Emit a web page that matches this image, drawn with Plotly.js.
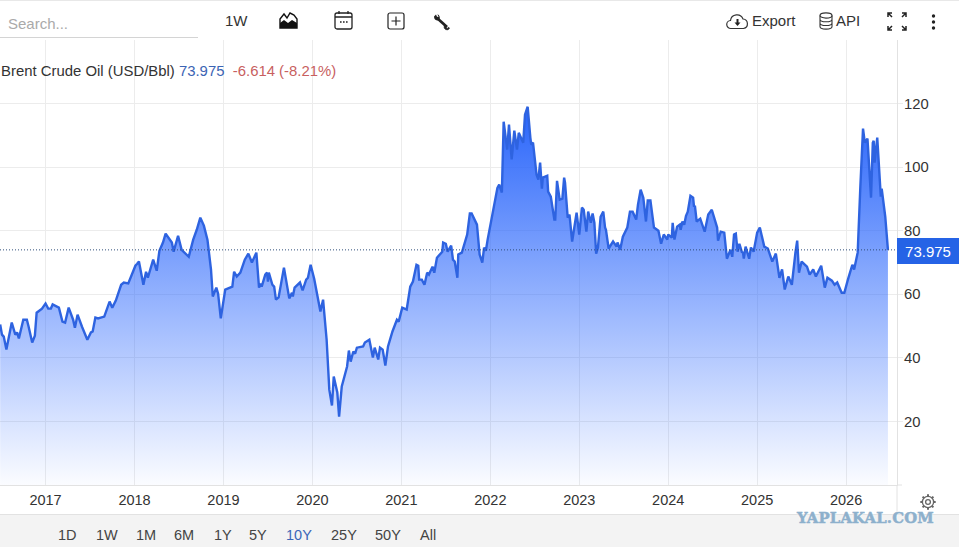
<!DOCTYPE html>
<html><head><meta charset="utf-8">
<script src="https://cdn.plot.ly/plotly-3.0.1.min.js"></script>
<style>
html,body{margin:0;padding:0;background:#fff;font-family:"Liberation Sans",Arial,sans-serif;overflow:hidden}
#wrap{position:relative;width:959px;height:547px;overflow:hidden}
#band{position:absolute;left:0;top:514px;width:959px;height:33px;background:#f3f3f3;border-top:1px solid #e2e2e2;box-sizing:border-box}
#topline{position:absolute;left:0;top:0;width:959px;height:1px;background:#e8e8e8}
#chart{position:absolute;left:0;top:0;width:959px;height:547px}
.t{position:absolute;white-space:nowrap;color:#333;font-size:15px;line-height:18px}
svg.i{position:absolute;overflow:visible}
#search{position:absolute;left:0;top:37px;width:198px;height:1px;background:#d4d4d4}
</style></head><body>
<div id="wrap">
<div id="topline"></div>
<div id="band"></div>
<div id="chart"></div>
<div class="t" style="left:8px;top:15px;color:#aaa">Search...</div><div id="search"></div>
<div class="t" style="left:225px;top:12px">1W</div>
<svg class="i" style="left:279px;top:11px" width="19" height="18" viewBox="0 0 19 18"><path d="M1 17V8L5 3l3 4 3-5 4 2 3 4v9z" fill="none" stroke="#111" stroke-width="1.4"/><path d="M1 17v-5l4-3 4 3 4-3 5 3v5z" fill="#111"/></svg>
<svg class="i" style="left:334px;top:10px" width="19" height="20" viewBox="0 0 19 20"><rect x="1" y="3" width="17" height="16" rx="2" fill="none" stroke="#222" stroke-width="1.3"/><path d="M1 7h17M5 1v3M14 1v3" stroke="#222" stroke-width="1.3"/><path d="M6 12h1.6M9 12h1.6M12 12h1.6" stroke="#222" stroke-width="1.6"/></svg>
<svg class="i" style="left:387px;top:12px" width="18" height="18" viewBox="0 0 18 18"><rect x="1" y="1" width="16" height="16" rx="2" fill="none" stroke="#222" stroke-width="1.2"/><path d="M9 4.5v9M4.5 9h9" stroke="#222" stroke-width="1.2"/></svg>
<svg class="i" style="left:433px;top:14px" width="18" height="17" viewBox="0 0 18 17"><path d="M4 4l10 9" stroke="#222" stroke-width="2.8"/><path d="M1 2.6L3 .6l1 2.2 1.6 .2L4.4 .3A4 4 0 0 1 6.6 5L5 6.6A4 4 0 0 1 1 2.6z" fill="#222"/><path d="M16.6 14a3 3 0 0 1-4 1.6 3 3 0 0 1-1.4-3.6l1.9 .9 .3 1.2 1.2 .4 .6-1.2z" fill="#222" stroke="#222" stroke-width=".6"/></svg>
<svg class="i" style="left:726px;top:13px" width="23" height="17" viewBox="0 0 23 17"><path d="M6 15.5H5a4 4 0 0 1-.5-8A6.5 6.5 0 0 1 17 6a4.8 4.8 0 0 1 .5 9.5z" fill="none" stroke="#333" stroke-width="1.2"/><path d="M11.5 6v5" stroke="#222" stroke-width="2"/><path d="M8.5 9.5h6l-3 3.5z" fill="#222"/></svg>
<div class="t" style="left:752px;top:12px">Export</div>
<svg class="i" style="left:819px;top:12px" width="14" height="18" viewBox="0 0 14 18"><ellipse cx="7" cy="3.5" rx="6" ry="2.6" fill="none" stroke="#333" stroke-width="1.1"/><path d="M1 3.5v11c0 1.5 2.7 2.6 6 2.6s6-1.1 6-2.6v-11M1 7.2c0 1.5 2.7 2.6 6 2.6s6-1.1 6-2.6M1 10.9c0 1.5 2.7 2.6 6 2.6s6-1.1 6-2.6" fill="none" stroke="#333" stroke-width="1.1"/></svg>
<div class="t" style="left:836px;top:12px">API</div>
<svg class="i" style="left:887px;top:12px" width="20" height="19" viewBox="0 0 20 19"><path d="M1 5V1h4M1 1l4 4M19 5V1h-4M19 1l-4 4M1 14v4h4M1 18l4-4M19 14v4h-4M19 18l-4-4" fill="none" stroke="#222" stroke-width="1.5"/></svg>
<svg class="i" style="left:931px;top:14px" width="5" height="16" viewBox="0 0 5 16"><circle cx="2.5" cy="2" r="1.7" fill="#222"/><circle cx="2.5" cy="8" r="1.7" fill="#222"/><circle cx="2.5" cy="14" r="1.7" fill="#222"/></svg>
<svg class="i" style="left:920px;top:494px" width="16" height="16" viewBox="0 0 16 16"><circle cx="8" cy="8" r="2.4" fill="none" stroke="#666" stroke-width="1.3"/><circle cx="8" cy="8" r="5.6" fill="none" stroke="#666" stroke-width="1.3"/><path d="M8 .3v2.2M8 13.5v2.2M.3 8h2.2M13.5 8h2.2M2.6 2.6l1.6 1.6M11.8 11.8l1.6 1.6M13.4 2.6l-1.6 1.6M4.2 11.8l-1.6 1.6" stroke="#666" stroke-width="2"/></svg>
<div class="t" id="ranges"></div>
<div class="t" style="left:797px;top:509px;font:bold 14.8px 'DejaVu Serif',serif;color:#8db0cc;-webkit-text-stroke:.5px #8db0cc;letter-spacing:.2px;text-shadow:0 0 3px rgba(255,255,255,.8)">YAPLAKAL.COM</div>
</div>
<script>
const seriesName = "Brent Crude Oil (USD/Bbl)";
const lastValue = 73.975;
const change = "-6.614 (-8.21%)";
const yearTicks = [2017,2018,2019,2020,2021,2022,2023,2024,2025,2026];
const priceTicks = [20,40,60,80,100,120];
const rangeLabels = ["1D","1W","1M","6M","1Y","5Y","10Y","25Y","50Y","All"];

const years = [
2016.49,2016.51,2016.53,2016.56,2016.62,2016.66,2016.68,2016.70,2016.75,2016.79,2016.81,2016.85,2016.88,2016.90,2016.96,
2017.00,2017.03,2017.06,2017.08,2017.15,2017.19,2017.22,2017.26,2017.31,2017.33,2017.36,2017.41,2017.47,2017.51,2017.53,2017.56,2017.59,2017.66,2017.72,2017.75,2017.79,2017.85,2017.88,2017.93,
2018.01,2018.03,2018.05,2018.10,2018.13,2018.15,2018.21,2018.25,2018.28,2018.32,2018.35,2018.42,2018.44,2018.49,2018.53,2018.61,2018.66,2018.70,2018.74,2018.78,2018.82,2018.86,2018.88,2018.92,2018.94,2018.97,
2019.02,2019.10,2019.12,2019.15,2019.19,2019.24,2019.28,2019.32,2019.37,2019.40,2019.42,2019.43,2019.47,2019.49,2019.50,2019.51,2019.55,2019.57,2019.59,2019.62,2019.68,2019.74,2019.77,2019.78,2019.80,2019.86,2019.89,2019.93,2019.95,2019.98,
2020.02,2020.09,2020.12,2020.16,2020.19,2020.22,2020.24,2020.28,2020.30,2020.33,2020.39,2020.41,2020.43,2020.46,2020.48,2020.50,2020.57,2020.59,2020.64,2020.68,2020.70,2020.74,2020.76,2020.79,2020.82,2020.85,2020.90,2020.95,2020.97,
2021.01,2021.06,2021.10,2021.13,2021.17,2021.19,2021.20,2021.23,2021.26,2021.29,2021.31,2021.35,2021.37,2021.40,2021.46,2021.47,2021.50,2021.52,2021.56,2021.58,2021.60,2021.63,2021.64,2021.68,2021.74,2021.77,2021.79,2021.85,2021.88,2021.91,2021.93,2021.95,2021.97,
2022.02,2022.05,2022.08,2022.10,2022.13,2022.15,2022.19,2022.21,2022.24,2022.27,2022.30,2022.32,2022.37,2022.39,2022.42,2022.45,2022.46,2022.48,2022.52,2022.54,2022.56,2022.58,2022.59,2022.64,2022.65,2022.68,2022.72,2022.73,2022.75,2022.78,2022.81,2022.83,2022.84,2022.87,2022.89,2022.92,2022.96,2022.97,
2023.00,2023.03,2023.05,2023.08,2023.10,2023.13,2023.15,2023.17,2023.19,2023.21,2023.24,2023.27,2023.29,2023.30,2023.33,2023.38,2023.42,2023.43,2023.46,2023.49,2023.54,2023.57,2023.60,2023.64,2023.66,2023.69,2023.72,2023.75,2023.77,2023.80,2023.84,2023.89,2023.92,2023.95,2023.99,
2024.00,2024.04,2024.05,2024.07,2024.10,2024.13,2024.14,2024.16,2024.18,2024.20,2024.22,2024.25,2024.28,2024.29,2024.30,2024.32,2024.36,2024.41,2024.45,2024.49,2024.55,2024.56,2024.59,2024.63,2024.66,2024.70,2024.72,2024.74,2024.76,2024.78,2024.80,2024.83,2024.84,2024.85,2024.87,2024.91,2024.93,2024.96,
2025.00,2025.03,2025.08,2025.12,2025.17,2025.21,2025.25,2025.28,2025.31,2025.35,2025.39,2025.43,2025.45,2025.47,2025.50,2025.56,2025.59,2025.63,2025.66,2025.72,2025.76,2025.79,2025.84,2025.87,2025.90,2025.95,2025.98,
2026.02,2026.07,2026.09,2026.13,2026.16,2026.19,2026.21,2026.24,2026.28,2026.30,2026.31,2026.32,2026.35,2026.36,2026.39,2026.40,2026.44,2026.47];

const prices = [
50.5,47.3,46.7,42.6,51.1,47.3,48.0,46.1,52.0,52.0,49.8,44.8,47.0,54.2,55.5,
57.1,55.5,55.5,56.8,55.8,51.4,51.1,55.8,52.0,49.5,53.6,49.8,45.7,48.0,48.3,52.7,52.4,53.0,57.7,55.8,58.0,63.0,63.7,63.4,
69.0,69.6,70.3,63.0,67.1,65.2,70.9,67.4,73.7,76.3,79.1,76.3,73.4,78.4,74.0,71.8,77.2,80.3,84.1,81.6,77.2,67.8,59.3,62.1,60.2,52.4,
61.5,62.4,67.1,65.6,66.8,70.9,72.8,70.0,73.1,62.1,63.4,62.4,66.2,66.8,64.0,66.8,63.0,62.4,58.3,59.0,68.4,58.7,60.5,59.3,62.1,63.7,61.2,64.6,65.2,69.3,
64.9,54.6,58.3,45.7,30.0,25.0,34.1,29.1,21.5,31.0,37.3,42.3,38.8,42.0,41.3,43.2,43.6,44.8,45.7,40.1,43.2,39.5,43.2,42.6,37.6,43.6,48.3,52.0,51.4,
55.8,55.2,62.4,64.0,69.3,69.0,64.6,64.6,63.0,66.8,66.2,68.7,66.8,71.5,73.4,76.3,75.9,73.4,75.3,70.9,70.3,65.2,72.5,73.1,78.8,85.4,85.4,81.9,72.5,70.0,74.7,73.7,77.2,
85.1,88.8,93.5,94.5,92.0,114.3,105.5,113.4,102.4,111.5,105.5,110.8,107.7,116.5,119.0,109.3,107.1,107.7,97.6,96.1,101.4,93.2,96.7,97.3,92.3,90.7,83.5,83.5,95.7,89.8,90.1,96.7,95.1,84.1,85.1,76.6,84.4,85.7,
78.8,87.3,86.6,79.7,86.0,82.5,85.4,82.5,72.8,74.7,84.4,86.0,81.0,80.3,74.4,76.6,75.0,76.3,74.0,78.1,81.0,86.0,86.0,83.5,88.2,92.9,90.4,82.9,89.5,89.5,81.0,80.0,75.9,78.8,77.2,
78.8,77.8,82.5,77.2,81.3,81.9,80.3,82.9,81.9,84.7,86.0,91.0,90.4,87.6,87.9,82.9,83.8,79.7,85.1,86.6,81.0,76.9,79.7,79.4,71.2,74.0,71.8,78.8,79.1,73.4,75.9,73.1,73.4,71.2,75.0,71.2,74.7,73.4,
79.4,81.0,75.0,74.4,70.3,72.8,65.2,67.8,61.5,65.6,63.0,73.1,76.9,66.8,70.3,68.7,66.2,67.8,65.6,69.0,62.1,65.2,64.3,63.0,63.7,60.5,60.5,
64.6,69.3,67.8,73.1,93.9,112.1,107.7,109.0,90.4,107.7,108.3,101.4,109.3,104.6,90.7,93.2,84.4,73.975];

const rangeLefts = [58,96,136,174,214,249,286,331,375,420];
const holder = document.getElementById('ranges');
holder.style.left = '0px'; holder.style.top = '526px';
rangeLabels.forEach((r,i)=>{
  const s = document.createElement('span');
  s.textContent = r;
  s.style.cssText = 'position:absolute;top:0;left:'+rangeLefts[i]+'px;font-size:14.5px;color:'+(r==='10Y'?'#3b66b8':'#444');
  holder.appendChild(s);
});

const grid = '#ececec';
const layout = {
  width:959, height:547,
  margin:{l:0,r:62,t:40,b:61.5,pad:0},
  paper_bgcolor:'rgba(0,0,0,0)', plot_bgcolor:'rgba(0,0,0,0)',
  showlegend:false,
  font:{family:'"Liberation Sans",Arial,sans-serif',size:14,color:'#333'},
  xaxis:{type:'linear',range:[2016.488,2026.572],tickmode:'array',tickvals:yearTicks,ticktext:yearTicks.map(String),
    showgrid:true,gridcolor:grid,gridwidth:1,zeroline:false,showline:true,linecolor:'#e2e2e2',linewidth:1,ticks:'',
    ticklabelstandoff:2,tickfont:{size:14.5,color:'#333'},fixedrange:true},
  yaxis:{range:[0,140],side:'right',tickmode:'array',tickvals:priceTicks,ticktext:priceTicks.map(String),
    showgrid:true,gridcolor:grid,gridwidth:1,zeroline:false,showline:true,linecolor:'#e2e2e2',linewidth:1,
    ticks:'outside',ticklen:5,tickcolor:grid,ticklabelstandoff:-2,tickfont:{size:14.8,color:'#333'},fixedrange:true},
  shapes:[
    {type:'line',xref:'paper',x0:0,x1:1,yref:'y',y0:lastValue,y1:lastValue,line:{color:'#2f4f7a',width:1,dash:'1px,2px'},layer:'above'},
    {type:'line',xref:'paper',x0:1,x1:1,yref:'paper',y0:-28.5/445.5,y1:0,line:{color:'#e2e2e2',width:1}},
    {type:'line',xref:'paper',x0:1,x1:902/897,yref:'paper',y0:0,y1:0,line:{color:'#e2e2e2',width:1}}
  ],
  annotations:[
    {xref:'paper',x:1,xanchor:'left',yref:'y',y:lastValue,yanchor:'middle',yshift:-1,text:lastValue.toFixed(3),showarrow:false,
     bgcolor:'#2563e6',font:{color:'#fff',size:15},width:62,height:26,borderpad:0,borderwidth:0,align:'center'},
    {xref:'paper',x:0,xanchor:'left',yref:'paper',y:1-(71-40)/445.5,yanchor:'middle',showarrow:false,align:'left',borderpad:0,
     text:seriesName+' <span style="color:#3c64b4">'+lastValue.toFixed(3)+'</span>  <span style="color:#c85f5f">'+change+'</span>',
     font:{size:14.9,color:'#333'}}
  ]
};
const data = [{
  type:'scatter',mode:'lines',x:years,y:prices,
  line:{color:'#2e63e0',width:2.4,shape:'linear'},
  fill:'tozeroy',
  fillgradient:{type:'vertical',start:0,stop:119,colorscale:[[0,'rgba(45,105,255,0.02)'],[1,'rgba(40,100,250,1)']]},
  hoverinfo:'x+y'
}];
Plotly.newPlot('chart',data,layout,{displayModeBar:false,staticPlot:true});
</script>
</body></html>
